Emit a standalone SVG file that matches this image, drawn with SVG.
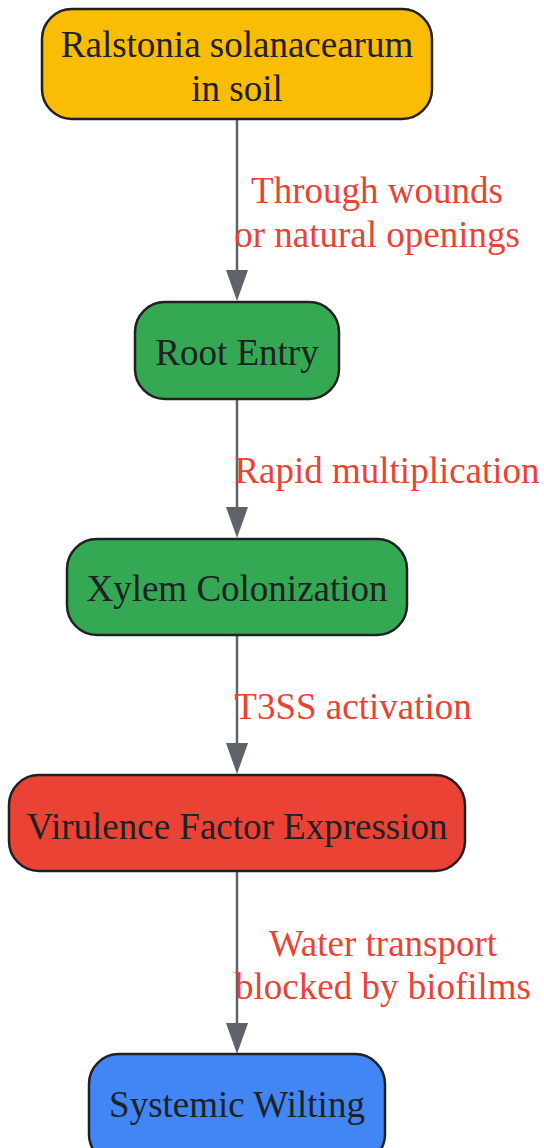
<svg xmlns="http://www.w3.org/2000/svg" width="544" height="1148" viewBox="0 0 544 1148">
<defs>
<style>
.node rect{stroke:#202124;stroke-width:2.5}
.node text{font-family:"Liberation Serif","Times New Roman",serif;font-size:37px;fill:#202124;text-anchor:middle}
.edge line{stroke:#5f6368;stroke-width:2.5}
.edge path{fill:#5f6368}
.lbl{font-family:"Liberation Serif","Times New Roman",serif;font-size:37px;fill:#EA4335;text-anchor:middle}
</style>
</defs>
<rect width="544" height="1148" fill="#ffffff"/>
<g id="connectors" class="edge">
<line x1="237" y1="119" x2="237" y2="270"/>
<path d="M226,270 L248,270 L237,301 Z"/>
<line x1="237" y1="399" x2="237" y2="507"/>
<path d="M226,507 L248,507 L237,538 Z"/>
<line x1="237" y1="635" x2="237" y2="743"/>
<path d="M226,743 L248,743 L237,774 Z"/>
<line x1="237" y1="871" x2="237" y2="1023"/>
<path d="M226,1023 L248,1023 L237,1054 Z"/>
<text class="lbl" x="377" y="203">Through wounds</text>
<text class="lbl" x="377" y="247">or natural openings</text>
<text class="lbl" x="387" y="483">Rapid multiplication</text>
<text class="lbl" x="353" y="719">T3SS activation</text>
<text class="lbl" x="383" y="956">Water transport</text>
<text class="lbl" x="383" y="999">blocked by biofilms</text>
</g>
<g id="n1" class="node">
<rect x="42" y="9" width="390" height="110" rx="30" fill="#FBBC04"/>
<text x="237" y="57">Ralstonia solanacearum</text>
<text x="237" y="101">in soil</text>
</g>
<g id="n2" class="node">
<rect x="135" y="302" width="204" height="97" rx="30" fill="#34A853"/>
<text x="237" y="365">Root Entry</text>
</g>
<g id="n3" class="node">
<rect x="67" y="539" width="340" height="96" rx="30" fill="#34A853"/>
<text x="237" y="601">Xylem Colonization</text>
</g>
<g id="n4" class="node">
<rect x="9" y="775" width="456" height="96" rx="30" fill="#EA4335"/>
<text x="237" y="839">Virulence Factor Expression</text>
</g>
<g id="n5" class="node">
<rect x="89" y="1054" width="296" height="110" rx="30" fill="#4285F4"/>
<text x="237" y="1117">Systemic Wilting</text>
</g>
</svg>
